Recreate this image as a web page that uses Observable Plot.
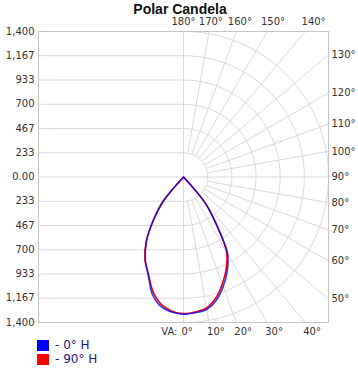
<!DOCTYPE html>
<html><head><meta charset="utf-8">
<script src="https://cdn.jsdelivr.net/npm/d3@7"></script>
<script src="https://cdn.jsdelivr.net/npm/@observablehq/plot@0.6"></script>
<style>
body{margin:0;background:#fff;}
#wrap{position:relative;width:358px;height:369px;overflow:hidden;}
#chart{position:absolute;left:0;top:0;}
#title{position:absolute;left:0;top:1px;width:360px;text-align:center;font:bold 14px "Liberation Sans",Arial,sans-serif;color:#111;line-height:17px;}
#legend{position:absolute;left:37px;top:338px;font:12px "DejaVu Sans",sans-serif;color:#1a1a80;}
.item{display:flex;align-items:center;height:14px;white-space:nowrap;}
.sw{width:12px;height:11px;margin-right:6px;}
</style></head>
<body>
<div id="wrap">
  <div id="chart"></div>
  <div id="title">Polar Candela</div>
  <div id="legend"></div>
</div>
<script>
// ---- data ----
const seriesNames = ["- 0° H", "- 90° H"];
const seriesColors = ["#0000ff", "#ff0000"];
const vaAngles = [0, 5, 10, 15, 20, 25, 30, 35, 40, 45, 50, 60, 70, 80, 90];
// 0° H plane (right half) and its opposite 180° H plane (left half)
const h0Right  = [1320, 1310, 1294, 1228, 1120, 1000, 852, 545, 325, 0, 0, 0, 0, 0, 0];
const h0Left   = [1320, 1305, 1265, 1165, 998, 873, 716, 508, 305, 0, 0, 0, 0, 0, 0];
// 90° H plane (right half) and 270° H plane (left half)
const h90Right = [1315, 1304, 1280, 1205, 1095, 975, 832, 545, 325, 0, 0, 0, 0, 0, 0];
const h90Left  = [1315, 1296, 1245, 1140, 992, 880, 720, 505, 305, 0, 0, 0, 0, 0, 0];
const yTicks = [-1400, -1166.67, -933.33, -700, -466.67, -233.33, 0, 233.33, 466.67, 700, 933.33, 1166.67, 1400];
const yTickLabels = ["1,400", "1,167", "933", "700", "467", "233", "0.00", "233", "467", "700", "933", "1,167", "1,400"];
const rayAngles = [0, 10, 20, 30, 40, 50, 60, 70, 80, 90, 100, 110, 120, 130, 140, 150, 160, 170, 180];
const rayLabels = ["0°", "10°", "20°", "30°", "40°", "50°", "60°", "70°", "80°", "90°", "100°", "110°", "120°", "130°", "140°", "150°", "160°", "170°", "180°"];

// ---- build tables ----
const R = 1400;
const rad = d => d * Math.PI / 180;
function branch(vals) {
  // points from 0° outward until the first zero (inclusive)
  const out = [];
  for (let i = 0; i < vaAngles.length; i++) {
    out.push([vaAngles[i], vals[i]]);
    if (vals[i] === 0) break;
  }
  return out;
}
function curveRows(name, left, right) {
  const rows = [];
  branch(left).reverse().forEach(([a, v]) => rows.push({series: name, x: -v * Math.sin(rad(a)), y: -v * Math.cos(rad(a))}));
  branch(right).slice(1).forEach(([a, v]) => rows.push({series: name, x: v * Math.sin(rad(a)), y: -v * Math.cos(rad(a))}));
  return rows;
}
const blueRows = curveRows(seriesNames[0], h0Left, h0Right);
const redRows = curveRows(seriesNames[1], h90Left, h90Right);

const rings = yTicks.filter(v => v > 0);
const arcRows = [];
rings.forEach((r, k) => {
  for (let t = 0; t <= 180; t += 2) {
    arcRows.push({ring: k, x: r * Math.sin(rad(t)), y: -r * Math.cos(rad(t))});
  }
});

const inner = rings[0];
const rays = rayAngles.map((a, i) => {
  const s = Math.sin(rad(a)), c = -Math.cos(rad(a));
  let t = Infinity;
  if (s > 1e-9) t = Math.min(t, R / s);
  if (Math.abs(c) > 1e-9) t = Math.min(t, R / Math.abs(c));
  const r0 = (a % 90 === 0) ? 0 : inner;
  return {a, label: rayLabels[i], x1: r0 * s, y1: r0 * c, x2: t * s, y2: t * c};
});
const pxPerUnit = 145 / R;
const bottomLabels = rays.filter(d => d.a < 45);
const rightLabels = rays.filter(d => d.a > 45 && d.a < 135);
const topLabels = rays.filter(d => d.a > 135).map(d => {
  const yy = R + 10 / pxPerUnit;
  return {...d, lx: Math.tan(rad(180 - d.a)) * yy};
});

const grid = "#dadada";
const chart = Plot.plot({
  width: 358, height: 369,
  marginLeft: 38, marginRight: 30, marginTop: 31, marginBottom: 47,
  x: {domain: [-R, R], axis: null},
  y: {domain: [-R, R], axis: null},
  style: {fontFamily: "DejaVu Sans, sans-serif", fontSize: "10px", color: "#333", background: "transparent"},
  marks: [
    Plot.ruleY(yTicks, {y: d => d, x1: -R, x2: 0, stroke: grid}),
    Plot.line(arcRows, {x: "x", y: "y", z: "ring", stroke: grid, strokeWidth: 1}),
    Plot.link(rays, {x1: "x1", y1: "y1", x2: "x2", y2: "y2", stroke: grid}),
    Plot.frame({stroke: "#c4c4c4"}),
    Plot.line(redRows, {x: "x", y: "y", stroke: seriesColors[1], strokeWidth: 1.6, curve: "catmull-rom"}),
    Plot.line(blueRows, {x: "x", y: "y", stroke: seriesColors[0], strokeWidth: 1.6, strokeOpacity: 0.78, curve: "catmull-rom"}),
    Plot.text(yTicks, {x: -R, y: d => d, text: (d, i) => yTickLabels[i], textAnchor: "end", dx: -4, fill: "#333"}),
    Plot.text(bottomLabels, {x: "x2", y: "y2", text: "label", textAnchor: "start", dx: -2, dy: 9, fill: "#333"}),
    Plot.text(["VA:"], {x: 0, y: -R, text: d => d, textAnchor: "end", dx: -6, dy: 9, fill: "#333"}),
    Plot.text(rightLabels, {x: "x2", y: "y2", text: "label", textAnchor: "start", dx: 3, fill: "#333"}),
    Plot.text(topLabels, {x: "lx", y: "y2", text: "label", textAnchor: "middle", dy: -10, fill: "#333"})
  ]
});
document.getElementById("chart").appendChild(chart);

const legend = document.getElementById("legend");
seriesNames.forEach((n, i) => {
  const it = document.createElement("div");
  it.className = "item";
  it.innerHTML = `<span class="sw" style="background:${seriesColors[i]}"></span><span>${n}</span>`;
  legend.appendChild(it);
});
</script>
</body></html>
